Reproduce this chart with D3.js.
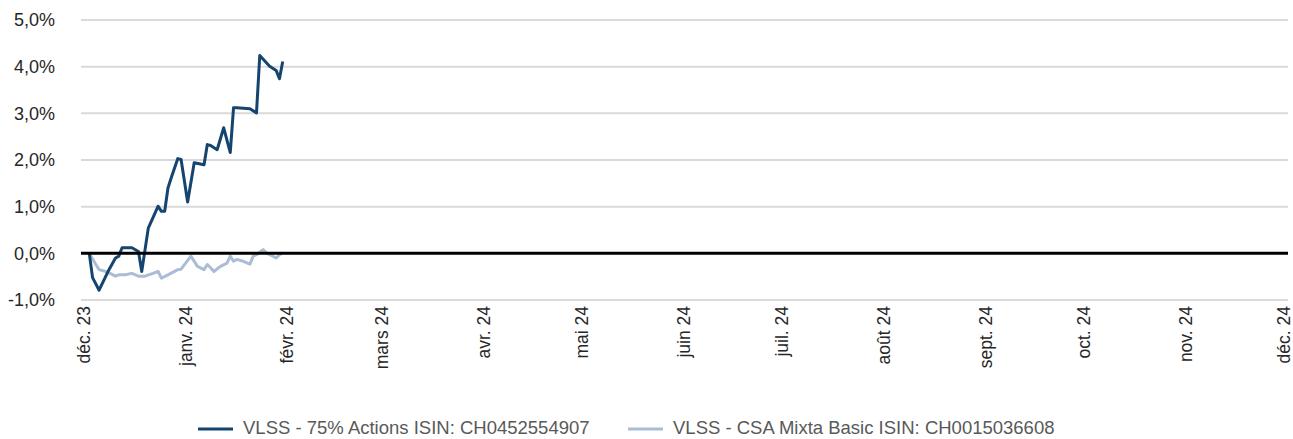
<!DOCTYPE html>
<html>
<head>
<meta charset="utf-8">
<script src="https://cdn.jsdelivr.net/npm/d3@7"></script>
<style>
  html, body { margin: 0; padding: 0; background: #fff; }
  svg { display: block; font-family: "Liberation Sans", Arial, sans-serif; }
</style>
</head>
<body>
<div id="host"></div>
<script>
// tick months on the x axis
const monthTicks = ['2023-12-01', '2024-01-01', '2024-02-01', '2024-03-01', '2024-04-01', '2024-05-01',
  '2024-06-01', '2024-07-01', '2024-08-01', '2024-09-01', '2024-10-01', '2024-11-01', '2024-12-01'];
const monthLabels = ['déc. 23', 'janv. 24', 'févr. 24', 'mars 24', 'avr. 24', 'mai 24', 'juin 24',
  'juil. 24', 'août 24', 'sept. 24', 'oct. 24', 'nov. 24', 'déc. 24'];
const yTicks = [-1, 0, 1, 2, 3, 4, 5];

const seriesNames = ['VLSS - 75% Actions ISIN: CH0452554907', 'VLSS - CSA Mixta Basic ISIN: CH0015036608'];

// VLSS - 75% Actions (performance in %)
const datesA = ['2023-12-02', '2023-12-03', '2023-12-05', '2023-12-08', '2023-12-10', '2023-12-11',
  '2023-12-12', '2023-12-15', '2023-12-17', '2023-12-18', '2023-12-20', '2023-12-23', '2023-12-24',
  '2023-12-25', '2023-12-26', '2023-12-27', '2023-12-29', '2023-12-30', '2024-01-01', '2024-01-03',
  '2024-01-06', '2024-01-07', '2024-01-08', '2024-01-10', '2024-01-12', '2024-01-14', '2024-01-15',
  '2024-01-16', '2024-01-20', '2024-01-22', '2024-01-23', '2024-01-26', '2024-01-28', '2024-01-29',
  '2024-01-30'];
const valuesA = [0, -0.52, -0.79, -0.35, -0.10, -0.06, 0.12, 0.12, 0.04, -0.39, 0.54, 1.01, 0.90,
  0.90, 1.40, 1.62, 2.03, 2.01, 1.10, 1.94, 1.90, 2.33, 2.31, 2.22, 2.69, 2.16, 3.12, 3.12, 3.10,
  3.01, 4.24, 4.01, 3.92, 3.74, 4.11];

// VLSS - CSA Mixta Basic (performance in %)
const datesB = ['2023-12-02', '2023-12-04', '2023-12-05', '2023-12-07', '2023-12-08', '2023-12-10',
  '2023-12-11', '2023-12-13', '2023-12-15', '2023-12-17', '2023-12-19', '2023-12-21', '2023-12-23',
  '2023-12-24', '2023-12-26', '2023-12-29', '2023-12-30', '2024-01-02', '2024-01-04', '2024-01-06',
  '2024-01-07', '2024-01-08', '2024-01-09', '2024-01-11', '2024-01-13', '2024-01-14', '2024-01-15',
  '2024-01-16', '2024-01-18', '2024-01-20', '2024-01-21', '2024-01-22', '2024-01-24', '2024-01-25',
  '2024-01-28', '2024-01-29', '2024-01-30'];
const valuesB = [0, -0.24, -0.35, -0.39, -0.42, -0.49, -0.46, -0.46, -0.43, -0.49, -0.49, -0.44,
  -0.39, -0.53, -0.46, -0.35, -0.34, -0.06, -0.28, -0.35, -0.24, -0.31, -0.39, -0.28, -0.21, -0.06,
  -0.17, -0.13, -0.17, -0.23, -0.06, -0.03, 0.08, 0.01, -0.10, -0.03, 0.01];

const colors = ['#15456f', '#aabdd5'];

const width = 1293;
const height = 439;
const parse = d3.timeParse('%Y-%m-%d');

const svg = d3.select('#host').append('svg')
  .attr('width', width)
  .attr('height', height);

const x = d3.scaleTime()
  .domain([parse(monthTicks[0]), parse(monthTicks[monthTicks.length - 1])])
  .range([86, 1286]);
const y = d3.scaleLinear().domain([-1, 5]).range([300, 20]);

const gridLeft = 81;
const gridRight = 1288;

// horizontal gridlines
svg.append('g')
  .selectAll('line')
  .data(yTicks.filter((v) => v !== 0))
  .join('line')
  .attr('x1', gridLeft)
  .attr('x2', gridRight)
  .attr('y1', (v) => y(v))
  .attr('y2', (v) => y(v))
  .attr('stroke', '#d9d9d9')
  .attr('stroke-width', 2);

// y labels
svg.append('g')
  .selectAll('text')
  .data(yTicks)
  .join('text')
  .attr('x', 55)
  .attr('y', (v) => y(v))
  .attr('dy', '0.35em')
  .attr('text-anchor', 'end')
  .attr('font-size', 18)
  .attr('fill', '#262626')
  .text((v) => d3.format('.1f')(v).replace('.', ',').replace('−', '-') + '%');

// x labels, rotated
svg.append('g')
  .selectAll('text')
  .data(monthTicks)
  .join('text')
  .attr('transform', (d) => `translate(${x(parse(d)) - 2},306) rotate(-90)`)
  .attr('dy', '0.35em')
  .attr('text-anchor', 'end')
  .attr('font-size', 17.5)
  .attr('fill', '#262626')
  .text((d, i) => monthLabels[i]);

const line = d3.line()
  .x((d) => x(d[0]))
  .y((d) => y(d[1]));

const series = [
  datesA.map((d, i) => [parse(d), valuesA[i]]),
  datesB.map((d, i) => [parse(d), valuesB[i]]),
];

// draw light series first, then the dark one
[1, 0].forEach((k) => {
  svg.append('path')
    .datum(series[k])
    .attr('fill', 'none')
    .attr('stroke', colors[k])
    .attr('stroke-width', 3)
    .attr('stroke-linejoin', 'round')
    .attr('d', line);
});

// zero line on top
svg.append('line')
  .attr('x1', gridLeft)
  .attr('x2', gridRight)
  .attr('y1', y(0))
  .attr('y2', y(0))
  .attr('stroke', '#000')
  .attr('stroke-width', 3);

// legend
const legendX = [198, 628];
const legend = svg.append('g');
seriesNames.forEach((name, i) => {
  legend.append('line')
    .attr('x1', legendX[i])
    .attr('x2', legendX[i] + 35)
    .attr('y1', 429)
    .attr('y2', 429)
    .attr('stroke', colors[i])
    .attr('stroke-width', 3);
  legend.append('text')
    .attr('x', legendX[i] + 45)
    .attr('y', 428)
    .attr('dy', '0.35em')
    .attr('font-size', 18.5)
    .attr('fill', '#595959')
    .text(name);
});
</script>
</body>
</html>
